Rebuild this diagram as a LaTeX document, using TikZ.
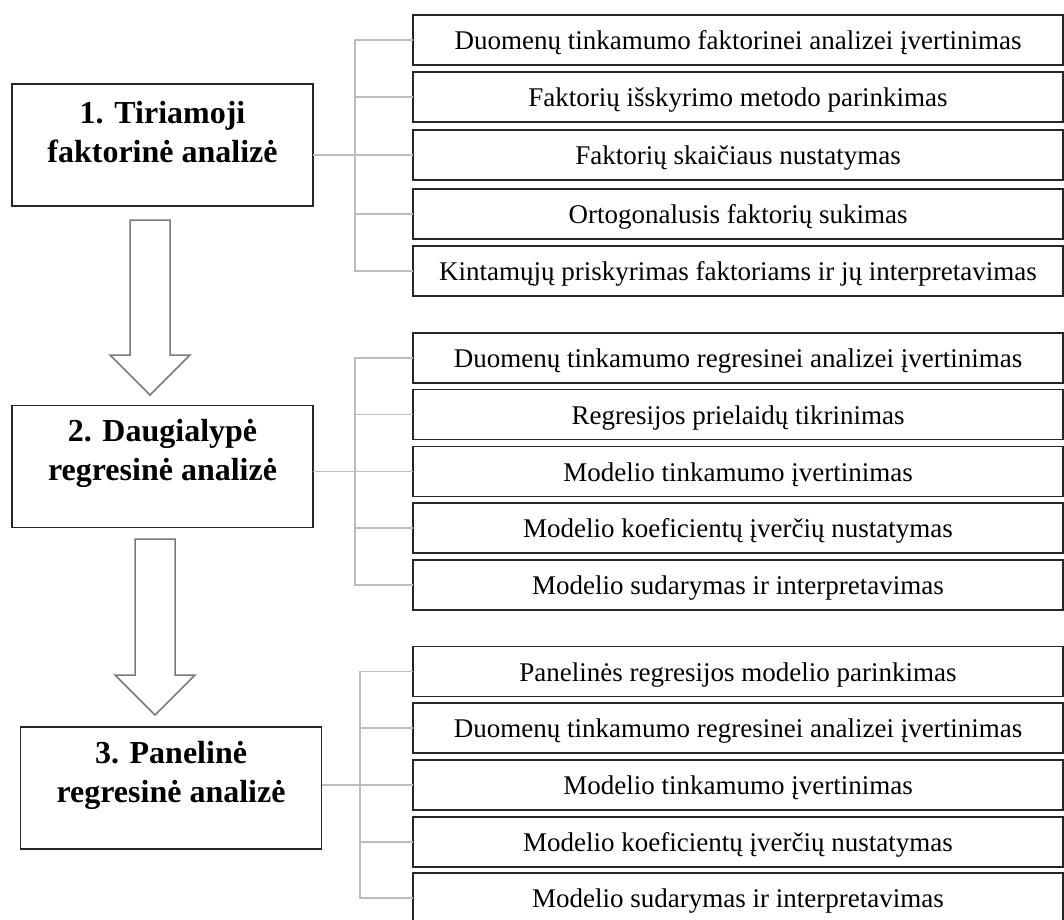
\documentclass[tikz,border=0pt]{standalone}
\usepackage{fontspec}
\setmainfont{Liberation Serif}
\definecolor{boxline}{HTML}{262626}
\definecolor{connline}{HTML}{BDBDBD}
\definecolor{arrline}{HTML}{7A7A7A}
\begin{document}
\begin{tikzpicture}[x=1pt,y=-1pt,
 mainbox/.style={draw=boxline, line width=1.5pt, minimum width=301pt, minimum height=122pt, inner sep=0pt, outer sep=0pt},
 maintext/.style={font=\fontsize{32}{39}\selectfont\bfseries, align=center, inner sep=0pt},
 stepbox/.style={draw=boxline, line width=1.5pt, minimum width=650pt, minimum height=50pt, inner sep=0pt, outer sep=0pt, font=\fontsize{27}{32}\selectfont, text height=19pt, text depth=0pt},
 conn/.style={draw=connline, line width=1.5pt},
 blockarrow/.style={draw=arrline, line width=1.5pt, fill=white, line join=miter}]
\useasboundingbox (0,0) rectangle (1064,919);
\fill[white] (0,0) rectangle (1064,919);

% main boxes
\node[mainbox] (b1) at (162.5,145) {};
\node[maintext] (t1) at (162.5,132) {1. Tiriamoji\\faktorinė analizė};
\node[mainbox] (b2) at (162.5,466.5) {};
\node[maintext] (t2) at (162.5,453.5) {2. Daugialypė\\regresinė analizė};
\node[mainbox] (b3) at (171,788) {};
\node[maintext] (t3) at (171,775) {3. Panelinė\\regresinė analizė};

% block arrows
\draw[blockarrow] (130,220) -- (130,355) -- (110,355) -- (150,395) -- (190,355) -- (170,355) -- (170,220) -- cycle;
\draw[blockarrow] (135,539) -- (135,675) -- (115,675) -- (155,715) -- (195,675) -- (175,675) -- (175,539) -- cycle;

% group 1
\node[stepbox] (r11) at (738,40) {Duomenų tinkamumo faktorinei analizei įvertinimas};
\node[stepbox] (r12) at (738,97) {Faktorių išskyrimo metodo parinkimas};
\node[stepbox] (r13) at (738,155) {Faktorių skaičiaus nustatymas};
\node[stepbox] (r14) at (738,214) {Ortogonalusis faktorių sukimas};
\node[stepbox] (r15) at (738,271) {Kintamųjų priskyrimas faktoriams ir jų interpretavimas};

% group 2
\node[stepbox] (r21) at (738,358) {Duomenų tinkamumo regresinei analizei įvertinimas};
\node[stepbox] (r22) at (738,414.5) {Regresijos prielaidų tikrinimas};
\node[stepbox] (r23) at (738,471.5) {Modelio tinkamumo įvertinimas};
\node[stepbox] (r24) at (738,528) {Modelio koeficientų įverčių nustatymas};
\node[stepbox] (r25) at (738,585) {Modelio sudarymas ir interpretavimas};

% group 3
\node[stepbox] (r31) at (738,671.5) {Panelinės regresijos modelio parinkimas};
\node[stepbox] (r32) at (738,728) {Duomenų tinkamumo regresinei analizei įvertinimas};
\node[stepbox] (r33) at (738,785) {Modelio tinkamumo įvertinimas};
\node[stepbox] (r34) at (738,842) {Modelio koeficientų įverčių nustatymas};
\node[stepbox] (r35) at (738,898) {Modelio sudarymas ir interpretavimas};

% connectors
\coordinate (v1) at (355,0);
\coordinate (v2) at (355,0);
\coordinate (v3) at (360,0);
\foreach \g/\v in {1/v1,2/v2,3/v3}{
  \draw[conn] (r\g1.west) -- (r\g1.west -| \v) -- (r\g5.west -| \v) -- (r\g5.west);
  \draw[conn] (r\g2.west) -- (r\g2.west -| \v);
  \draw[conn] (r\g4.west) -- (r\g4.west -| \v);
  \draw[conn] (b\g.east |- r\g3.west) -- (r\g3.west);
}
\end{tikzpicture}
\end{document}
